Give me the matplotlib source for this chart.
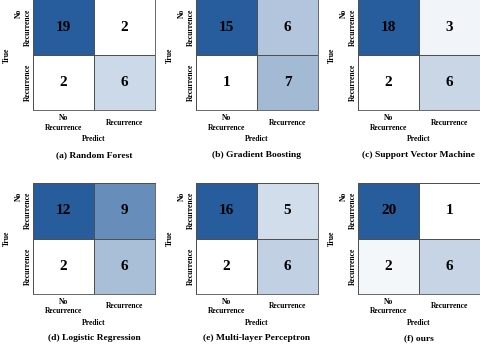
import numpy as np
import matplotlib
matplotlib.use('Agg')
import matplotlib.pyplot as plt
from matplotlib.colors import LinearSegmentedColormap

plt.rcParams['font.family'] = ['Liberation Serif', 'DejaVu Serif']
plt.rcParams['font.weight'] = 'bold'

# Confusion matrices (rows: true, cols: predicted)
rf = [[19, 2], [2, 6]]
gb = [[15, 6], [1, 7]]
svm = [[18, 3], [2, 6]]
lr = [[12, 9], [2, 6]]
mlp = [[16, 5], [2, 6]]
ours = [[20, 1], [2, 6]]

titles = ['(a) Random Forest', '(b) Gradient Boosting', '(c) Support Vector Machine',
          '(d) Logistic Regression', '(e) Multi-layer Perceptron', '(f) ours']
matrices = [rf, gb, svm, lr, mlp, ours]
x_labels = ['No\nRecurrence', 'Recurrence']
y_labels = ['No\nRecurrence', 'Recurrence']

cmap = LinearSegmentedColormap.from_list('blue', ['#ffffff', '#275d9c'])

W, H = 480, 347
fig = plt.figure(figsize=(W / 100, H / 100), dpi=100)

lefts = [33, 196, 358]
tops = [-0.5, 183]
aw, ah = 122, 111

for i, (mat, title) in enumerate(zip(matrices, titles)):
    r, c = divmod(i, 3)
    x0, y0 = lefts[c], tops[r]
    ax = fig.add_axes([x0 / W, 1 - (y0 + ah) / H, aw / W, ah / H])
    m = np.array(mat)
    ax.pcolormesh(m, cmap=cmap, vmin=m.min(), vmax=m.max(),
                  edgecolors='#505050', linewidth=0.5)
    ax.set_xlim(0, 2)
    ax.set_ylim(2, 0)
    for (yy, xx), v in np.ndenumerate(m):
        ax.text(xx + 0.5, yy + 0.5, str(v), ha='center', va='center',
                fontsize=11, fontweight='bold', color='black')
    ax.set_xticks([0.5, 1.5])
    ax.set_xticklabels(x_labels, fontsize=5.5, fontweight='bold',
                       va='center', linespacing=1.3)
    ax.set_yticks([0.5, 1.5])
    ax.set_yticklabels(y_labels, fontsize=5.5, fontweight='bold',
                       rotation=90, va='center', linespacing=1.2)
    ax.tick_params(axis='x', length=0, pad=9)
    ax.tick_params(axis='y', length=0, pad=1)
    for s in ax.spines.values():
        s.set_color('#505050')
        s.set_linewidth(0.6)
    ax.text(-26 / aw, 0.5, 'True', transform=ax.transAxes, rotation=90,
            ha='center', va='center', fontsize=5.5, fontweight='bold')
    ax.text(0.5, -29 / ah, 'Predict', transform=ax.transAxes,
            ha='center', va='center', fontsize=5.5, fontweight='bold')
    ax.text(0.5, -44.5 / ah, title, transform=ax.transAxes,
            ha='center', va='center', fontsize=6.8, fontweight='bold')

fig.savefig('out.png', dpi=100)
